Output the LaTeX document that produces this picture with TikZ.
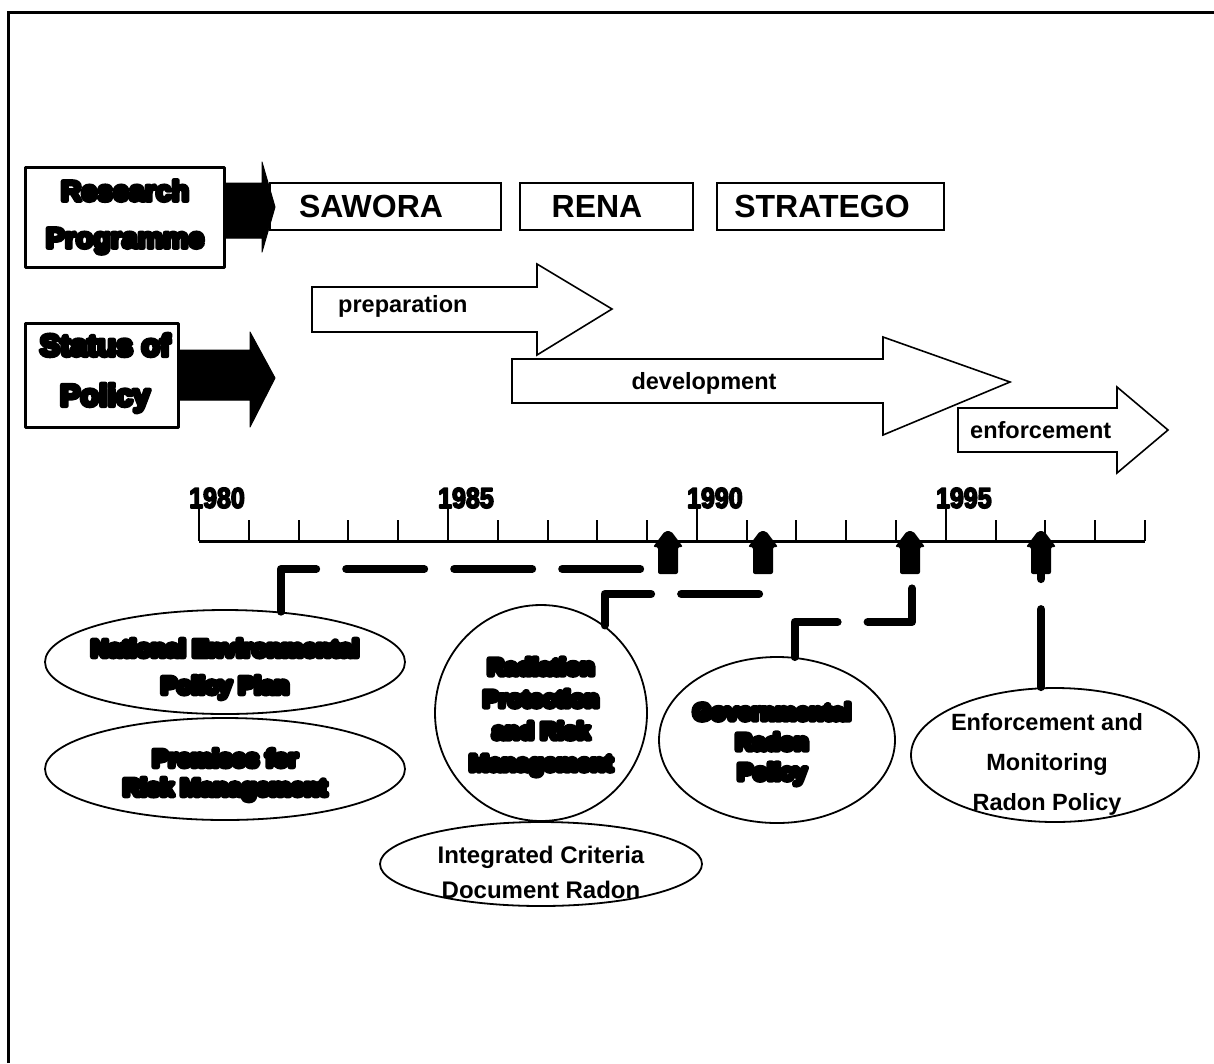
\documentclass[tikz,border=0pt]{standalone}
\usepackage{fontspec}
\setmainfont{Liberation Sans}
\newfontfamily\blobfont[FakeBold=22]{Liberation Sans Bold}
\newfontfamily\headfont[FakeBold=14]{Liberation Sans Bold}
\newfontfamily\yrfont[FakeBold=6]{Liberation Sans Bold}
\usetikzlibrary{shapes.geometric,calc}
\begin{document}
\begin{tikzpicture}[x=1pt,y=-1pt,
  pbox/.style={draw,line width=1.8pt,inner sep=0pt,font=\fontsize{32}{32}\selectfont\bfseries},
  hbox/.style={draw,line width=3pt,inner sep=0pt,line join=round},
  oval/.style={draw,ellipse,line width=1.8pt,inner sep=0pt},
  blob/.style={align=center,inner sep=0pt,line join=round,font=\fontsize{23.5}{#1}\selectfont\blobfont},
  plain/.style={align=center,inner sep=0pt,font=\fontsize{24}{#1}\selectfont\bfseries},
  lbl/.style={font=\fontsize{23.5}{23.5}\selectfont\bfseries,inner sep=0pt},
  conn/.style={line width=8pt,line cap=round,line join=round,dash pattern=on 78pt off 30pt},
  blackarrow/.style={fill=black,draw=black,line width=1pt,line join=round},
  whitearrow/.style={fill=white,draw=black,line width=1.6pt,line join=miter}
]
\useasboundingbox (0,0) rectangle (1214,1063);
\fill[white] (0,0) rectangle (1214,1063);
% frame
\draw[line width=3.5pt] (8.5,1063) -- (8.5,12.5) -- (1214,12.5);

% research programme
\node[hbox,minimum width=199pt,minimum height=100pt] (rp) at (124.5,217) {};
\node[blob=47,font=\fontsize{28.5}{47}\selectfont\headfont] (rpt) at (125,217) {Research\\Programme};
\node[pbox,minimum width=231pt,minimum height=47pt] (sawora) at (385.5,206.5) {SAWORA\hspace*{29pt}};
\node[pbox,minimum width=173pt,minimum height=47pt] (rena) at (606.5,206.5) {RENA\hspace*{19pt}};
\node[pbox,minimum width=227pt,minimum height=47pt] (stratego) at (830.5,206.5) {STRATEGO\hspace*{17pt}};
\fill[blackarrow] (rp.east |- 0,183) -- (262,183) -- (262,162) -- (275,207) -- (262,252) -- (262,238) -- (rp.east |- 0,238) -- cycle;

% status of policy
\node[hbox,minimum width=153pt,minimum height=104pt] (sp) at (101.5,375) {};
\node[blob=50,font=\fontsize{30.5}{50}\selectfont\headfont] (spt) at (105,373) {Status of\\Policy};
\fill[blackarrow] (sp.east |- 0,350) -- (250,350) -- (250,332) -- (275,378) -- (250,427) -- (250,400) -- (sp.east |- 0,400) -- cycle;

% phase arrows
\draw[whitearrow] (312,287) -- (537,287) -- (537,264) -- (612,309) -- (537,355) -- (537,332) -- (312,332) -- cycle;
\node[lbl,anchor=west] (prep) at (338,306) {preparation};
\draw[whitearrow] (512,359) -- (883,359) -- (883,337) -- (1010,382) -- (883,435) -- (883,403) -- (512,403) -- cycle;
\node[lbl] (dev) at (704,383) {development};
\draw[whitearrow] (958,408) -- (1117,408) -- (1117,387) -- (1168,430) -- (1117,473) -- (1117,452) -- (958,452) -- cycle;
\node[lbl,anchor=west] (enfl) at (970,430) {enforcement};

% timeline
\draw[line width=3pt] (199,541) -- (1145,541);
\foreach \i in {0,...,19}{
  \pgfmathsetmacro{\xx}{199+\i*49.79}
  \pgfmathtruncatemacro{\mm}{mod(\i,5)}
  \ifnum\mm=0
    \draw[line width=2pt] (\xx,541) -- (\xx,505);
  \else
    \draw[line width=2pt] (\xx,541) -- (\xx,520);
  \fi
}
\foreach \i/\y in {0/1980,5/1985,10/1990,15/1995}{
  \node[font=\fontsize{25}{25}\selectfont\yrfont,inner sep=0pt,line join=round] (y\y) at ({199+\i*49.79+18},498) {\scalebox{1}[1.15]{\y}};
}
% markers
\foreach \n/\X in {1/668,2/763,3/910,4/1041}{
  \fill[rounded corners=2pt] (\X-15,547) -- (\X-3,531) -- (\X+3,531) -- (\X+15,547) -- (\X+10,547) -- (\X+10,574) -- (\X-10,574) -- (\X-10,547) -- cycle;
  \coordinate (m\n) at (\X,574);
}
\coordinate (e1) at (645,569);
\coordinate (e2) at (763,594);
\coordinate (g3) at (912,622);
\coordinate (m3b) at (912,574);

% ellipses
\node[oval,minimum width=360pt,minimum height=104pt] (nepp) at (225,662) {};
\node[blob=37,font=\fontsize{24}{37}\selectfont\blobfont] (neppt) at ($(nepp.center)+(0,7)$) {National Environmental\\Policy Plan};
\node[oval,minimum width=360pt,minimum height=102pt] (prem) at (225,769) {};
\node[blob=29,font=\fontsize{24}{29}\selectfont\blobfont] (premt) at ($(prem.center)+(0,6)$) {Premises for\\Risk Management};
\node[oval,minimum width=212pt,minimum height=216pt] (rad) at (541,713) {};
\node[blob=32] (radt) at ($(rad.center)+(0,4)$) {Radiation\\Protection\\and Risk\\Management};
\node[oval,minimum width=322pt,minimum height=84pt] (icd) at (541,864) {};
\node[plain=35] (icdt) at ($(icd.center)+(0,8)$) {Integrated Criteria\\Document Radon};
\node[oval,minimum width=236pt,minimum height=166pt] (gov) at (777,740) {};
\node[blob=30] (govt) at ($(gov.center)+(-5,4)$) {Governmental\\Radon\\Policy};
\node[oval,minimum width=288pt,minimum height=134pt] (enf) at (1055,755) {};
\node[plain=40,font=\fontsize{23.5}{40}\selectfont\bfseries] (enft) at ($(enf.center)+(-8,9)$) {Enforcement and\\Monitoring\\Radon Policy};

% connectors
\draw[conn] (nepp.42) |- (e1);
\draw[conn] (rad.54) |- (e2);
\draw[conn] (gov.78) |- (g3) -- (m3b);
\draw[conn] (m4 |- enf.north) -- (m4);
\end{tikzpicture}
\end{document}
